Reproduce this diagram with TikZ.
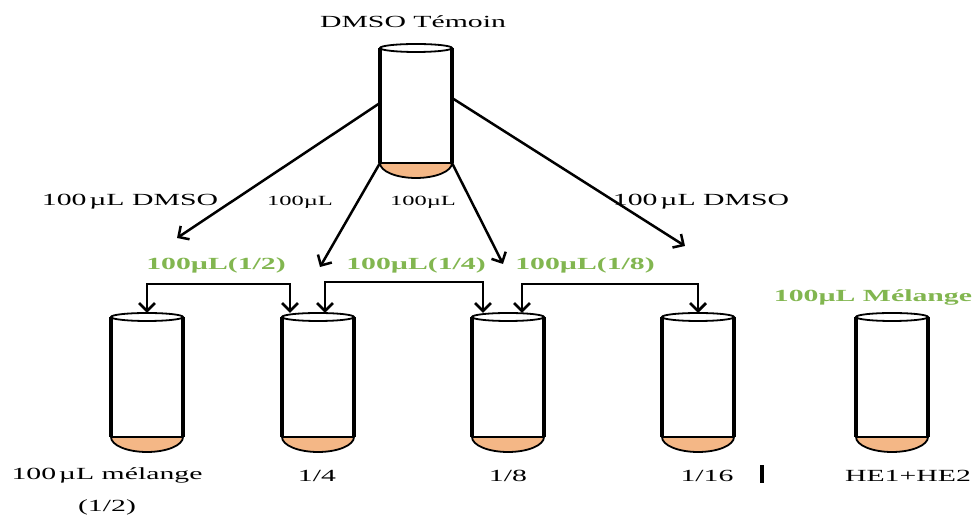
\documentclass[tikz,border=0pt]{standalone}
\usepackage{fontspec}
\setmainfont[FakeStretch=1.75]{Liberation Serif}
\usetikzlibrary{arrows.meta}
\begin{document}
\begin{tikzpicture}[x=1pt,y=1pt]
\newcommand{\tubew}{72pt}
\newcommand{\caph}{15pt}
\definecolor{mixgreen}{RGB}{130,182,80}
\definecolor{capcolor}{RGB}{244,183,134}
\tikzstyle{tube}=[inner sep=0pt,outer sep=0pt,minimum width=\tubew,minimum height=135pt]
\tikzstyle{wall}=[line width=3.6pt]
\tikzstyle{rim}=[line width=1.8pt]
\tikzstyle{txt}=[inner sep=0pt,font=\fontsize{17}{20}\selectfont]
\tikzstyle{small}=[inner sep=0pt,font=\fontsize{14}{17}\selectfont]
\tikzstyle{mixtxt}=[inner sep=0pt,text=mixgreen,font=\fontsize{17}{20}\selectfont\bfseries]
\tikzstyle{feed}=[line width=2.5pt,-{Straight Barb[length=8pt,width=16pt]}]
\tikzstyle{split}=[line width=2.7pt,{Straight Barb[length=8pt,width=16pt]}-{Straight Barb[length=8pt,width=16pt]},shorten <=4pt,shorten >=4pt]
\useasboundingbox (0,0) rectangle (978,516);
\node[tube,minimum height=130pt] (t0) at (416,403) {};
\node[tube] (t1) at (147,131.5) {};
\node[tube] (t2) at (318,131.5) {};
\node[tube] (t3) at (508,131.5) {};
\node[tube] (t4) at (698,131.5) {};
\node[tube] (t5) at (892,131.5) {};
\foreach \t in {t0,t1,t2,t3,t4,t5} {
  \fill[capcolor] ([yshift=\caph]\t.south west) arc[start angle=180,end angle=360,x radius=36pt,y radius=\caph] -- cycle;
  \draw[rim] ([yshift=\caph]\t.south west) arc[start angle=180,end angle=360,x radius=36pt,y radius=\caph] -- cycle;
  \draw[wall] (\t.north west) -- ([yshift=\caph]\t.south west);
  \draw[wall] (\t.north east) -- ([yshift=\caph]\t.south east);
  \draw[rim,fill=white] (\t.north) ellipse[x radius=36pt,y radius=4pt];
}
\node[txt] (title) at (413,494) {DMSO Témoin};
\coordinate (d1) at (177,278);
\coordinate (d2) at (320,249);
\coordinate (d3) at (503,252);
\coordinate (d4) at (685,270);
\draw[feed] ([yshift=10pt]t0.west) -- (d1);
\draw[feed] ([yshift=\caph]t0.south west) -- (d2);
\draw[feed] ([yshift=\caph]t0.south east) -- (d3);
\draw[feed] ([yshift=15pt]t0.east) -- (d4);
\node[txt] (dmso1) at (130,314) {100\,µL DMSO};
\node[small] (v1) at (300,314) {100µL};
\node[small] (v2) at (423,314) {100µL};
\node[txt] (dmso2) at (701,314) {100\,µL DMSO};
\node[mixtxt] (m1) at (216,251) {100µL(1/2)};
\node[mixtxt] (m2) at (416,251) {100µL(1/4)};
\node[mixtxt] (m3) at (585,251) {100µL(1/8)};
\node[mixtxt] (m4) at (873,219) {100µL Mélange};
\coordinate (s1) at (290,232);
\coordinate (s2) at (325,234);
\coordinate (s3) at (483,234);
\coordinate (s4) at (522,232);
\draw[split] (t1.north) |- (s1) -- (s1 |- t2.north);
\draw[split] (s2 |- t2.north) |- (s3) -- (s3 |- t3.north);
\draw[split] (s4 |- t3.north) |- (t4.north |- s4) -- (t4.north);
\node[txt] (l1) at (107,41) {100\,µL mélange};
\node[txt] (l1b) at (107,9) {(1/2)};
\node[txt] (l2) at (317,40) {1/4};
\node[txt] (l3) at (508,40) {1/8};
\node[txt] (l4) at (707,40) {1/16};
\node[txt] (l5) at (908,40) {HE1+HE2};
\node[inner sep=0pt] (bar) at (762,42) {\rule{3.5pt}{18pt}};
\end{tikzpicture}
\end{document}
